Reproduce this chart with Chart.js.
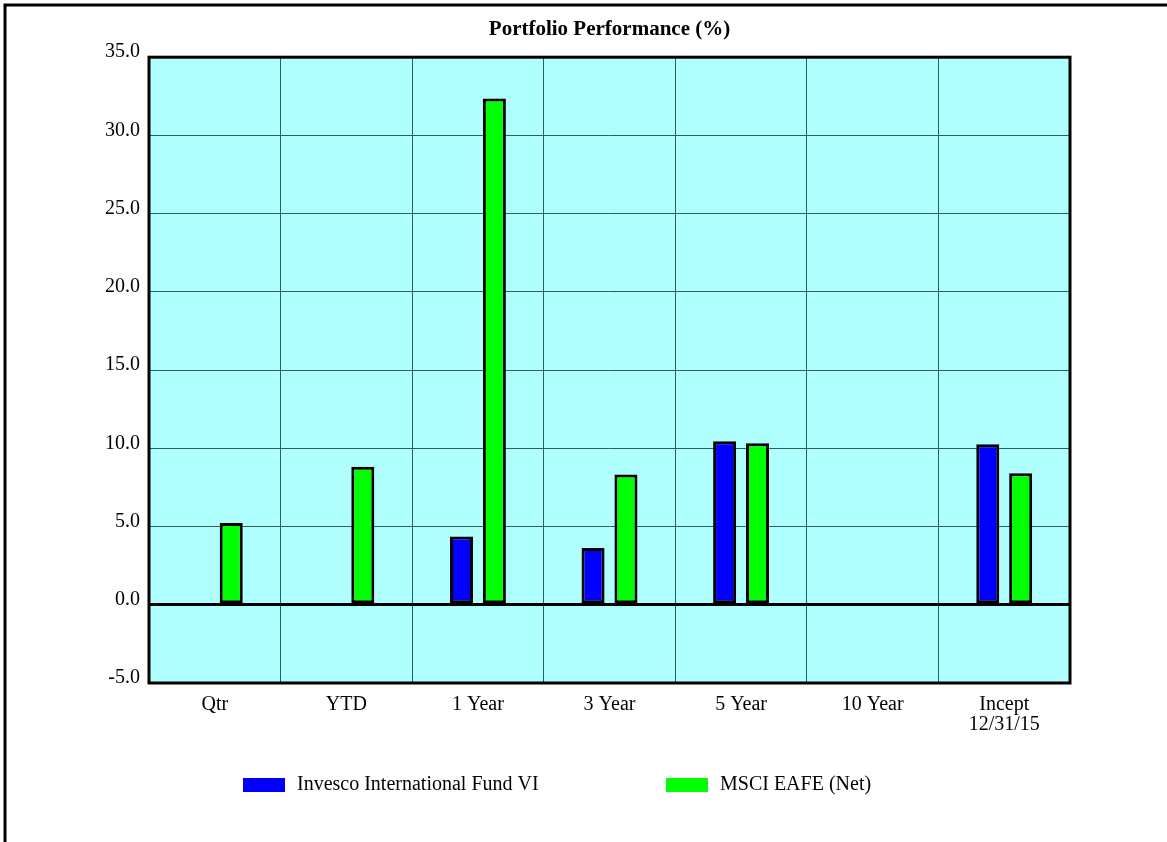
<!DOCTYPE html>
<html>
<head>
<meta charset="utf-8">
<title>Portfolio Performance (%)</title>
<script src="https://cdn.jsdelivr.net/npm/chart.js@4/dist/chart.umd.min.js"></script>
<style>
    html, body { margin: 0; padding: 0; background: #ffffff; }
    #wrap { position: relative; width: 1167px; height: 842px; }
</style>
</head>
<body>
<div id="wrap"><canvas id="perfChart" width="1167" height="842"></canvas></div>
<script>
// Categories and values (%)
var periods = ['Qtr', 'YTD', '1 Year', '3 Year', '5 Year', '10 Year', ['Incept', '12/31/15']];
var fundName = 'Invesco International Fund VI';
var benchName = 'MSCI EAFE (Net)';
var fundValues = [null, null, 4.36, 3.63, 10.46, null, 10.26];
var benchValues = [5.22, 8.83, 32.36, 8.33, 10.33, null, 8.41];
var yTicks = [-5, 0, 5, 10, 15, 20, 25, 30, 35];

var serif = 'Liberation Serif';
var gridColor = '#2f5f5f';

// Cyan plot background, black frame round the plot, page frame, legend
var framePlugin = {
    id: 'framePlugin',
    beforeDraw: function (chart) {
        var ctx = chart.ctx, a = chart.chartArea;
        ctx.save();
        ctx.fillStyle = '#b0ffff';
        ctx.fillRect(a.left, a.top, a.right - a.left, a.bottom - a.top);
        ctx.restore();
    },
    afterDraw: function (chart) {
        var ctx = chart.ctx, a = chart.chartArea;
        ctx.save();
        ctx.strokeStyle = '#000000';
        ctx.lineWidth = 3;
        ctx.strokeRect(a.left, a.top, a.right - a.left, a.bottom - a.top);

        // outer page frame (top and left edges only)
        ctx.beginPath();
        ctx.moveTo(5, 842);
        ctx.lineTo(5, 5);
        ctx.lineTo(1167, 5);
        ctx.stroke();

        // legend
        var spots = [243, 666];
        ctx.font = '20px "' + serif + '"';
        ctx.textBaseline = 'middle';
        ctx.textAlign = 'left';
        chart.data.datasets.forEach(function (ds, i) {
            ctx.fillStyle = ds.backgroundColor;
            ctx.fillRect(spots[i], 778, 42, 14);
            ctx.fillStyle = '#000000';
            ctx.fillText(ds.label, spots[i] + 54, 785);
        });
        ctx.restore();
    }
};

var ctx = document.getElementById('perfChart');
var perfChart = new Chart(ctx, {
    type: 'bar',
    data: {
        labels: periods,
        datasets: [{
            label: fundName,
            data: fundValues,
            backgroundColor: '#0000ff',
            borderColor: '#000000',
            borderWidth: 3,
            borderSkipped: false,
            categoryPercentage: 0.5,
            barPercentage: 0.7
        }, {
            label: benchName,
            data: benchValues,
            backgroundColor: '#00ff00',
            borderColor: '#000000',
            borderWidth: 3,
            borderSkipped: false,
            categoryPercentage: 0.5,
            barPercentage: 0.7
        }]
    },
    options: {
        responsive: false,
        animation: false,
        layout: { padding: { top: 17, right: 97, bottom: 0, left: 0 } },
        plugins: {
            legend: { display: false },
            tooltip: { enabled: false },
            title: {
                display: true,
                fullSize: false,
                text: 'Portfolio Performance (%)',
                color: '#000000',
                font: { family: serif, size: 21, weight: 'bold', lineHeight: 1.2 },
                padding: { top: 0, bottom: 15 }
            }
        },
        scales: {
            x: {
                grid: { color: gridColor, lineWidth: 1, drawTicks: false, offset: true },
                border: { display: false },
                ticks: {
                    color: '#000000',
                    font: { family: serif, size: 20, lineHeight: 1.0 },
                    padding: 12,
                    maxRotation: 0,
                    autoSkip: false
                },
                afterFit: function (s) { s.height = 159; }
            },
            y: {
                min: -5,
                max: 35,
                grid: {
                    drawTicks: false,
                    color: function (c) { return c.tick && c.tick.value === 0 ? '#000000' : gridColor; },
                    lineWidth: function (c) { return c.tick && c.tick.value === 0 ? 3 : 1; }
                },
                border: { display: false },
                afterBuildTicks: function (s) {
                    s.ticks = yTicks.map(function (v) { return { value: v }; });
                },
                ticks: {
                    color: '#000000',
                    font: { family: serif, size: 20 },
                    padding: 9,
                    labelOffset: -5,
                    callback: function (v) { return Number(v).toFixed(1); }
                },
                afterFit: function (s) { s.width = 149; }
            }
        }
    },
    plugins: [framePlugin]
});
</script>
</body>
</html>
